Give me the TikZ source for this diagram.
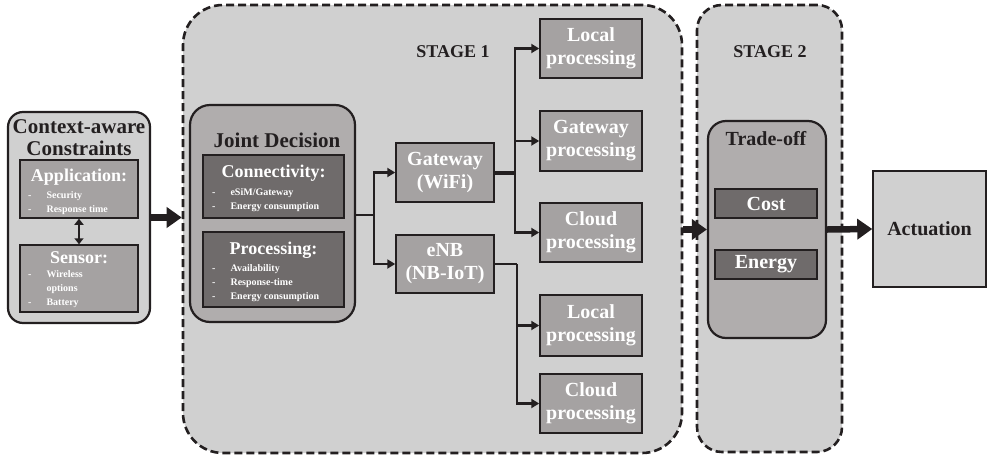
\documentclass[tikz,border=0pt]{standalone}
\usepackage{fontspec}
\setmainfont{Liberation Serif}
\usetikzlibrary{arrows.meta}
\definecolor{lightg}{HTML}{D0D0D0}
\definecolor{midg}{HTML}{B0ADAD}
\definecolor{boxg}{HTML}{A5A2A2}
\definecolor{darkg}{HTML}{6F6B6B}
\definecolor{ink}{HTML}{231F20}
\begin{document}
\begin{tikzpicture}[x=1pt,y=-1pt,
 stagebox/.style={draw=ink, fill=lightg, line width=2.6pt, dash pattern=on 8pt off 4pt, inner sep=0pt},
 groupbox/.style={draw=ink, fill=midg, line width=2.2pt, inner sep=0pt, rounded corners=18pt},
 greybox/.style={draw=ink, fill=boxg, line width=1.5pt, inner sep=0pt, text=white, font=\bfseries\fontsize{20}{23}\selectfont, align=center},
 darkbox/.style={draw=ink, fill=darkg, line width=1.5pt, inner sep=0pt, text=white, font=\bfseries\fontsize{20}{23}\selectfont},
 title/.style={text=ink, font=\bfseries\fontsize{20}{22}\selectfont, align=center, inner sep=0pt},
 whitetitle/.style={text=white, font=\bfseries\fontsize{18}{20}\selectfont, inner sep=0pt},
 items/.style={text=white, font=\bfseries\fontsize{10}{14}\selectfont, inner sep=0pt, anchor=west},
 link/.style={draw=ink, line width=2.4pt, -{Triangle[length=8pt,width=9pt]}},
 plainlink/.style={draw=ink, line width=2.4pt},
 bigarrow/.style={draw=ink, line width=6.5pt, -{Triangle[length=15pt,width=20pt]}},
]
\useasboundingbox (0,0) rectangle (987,458);

% stages
\node[stagebox, rounded corners=40pt, minimum width=499pt, minimum height=448pt] (stage1) at (432.5,229) {};
\node[stagebox, rounded corners=25pt, minimum width=145pt, minimum height=447pt] (stage2) at (769.5,228.5) {};
\node[title, font=\bfseries\fontsize{18}{20}\selectfont] (st1) at (453,52) {STAGE 1};
\node[title, font=\bfseries\fontsize{18}{20}\selectfont] (st2) at (770,52) {STAGE 2};

% context-aware constraints
\node[groupbox, fill=lightg, rounded corners=15pt, minimum width=142pt, minimum height=211pt] (ctx) at (79,217.5) {};
\node[title, font=\bfseries\fontsize{21}{22}\selectfont] (ctxt) at (79,138) {Context-aware\\Constraints};
\node[draw=ink, fill=boxg, line width=1.5pt, inner sep=0pt, minimum width=118pt, minimum height=58pt] (app) at (79,189) {};
\node[whitetitle] (appt) at (79,177) {Application:};
\node[items] (appi) at (28,203) {\begin{tabular}{@{}l@{\hspace{15pt}}l@{}}-&Security\\-&Response time\end{tabular}};
\node[draw=ink, fill=boxg, line width=1.5pt, inner sep=0pt, minimum width=118pt, minimum height=67pt] (sens) at (79,278.5) {};
\node[whitetitle] (senst) at (79,258) {Sensor:};
\node[items] (sensi) at (28,288.5) {\begin{tabular}{@{}l@{\hspace{15pt}}l@{}}-&Wireless\\&options\\-&Battery\end{tabular}};
\draw[draw=ink, line width=2.4pt, {Triangle[length=6pt,width=9pt]}-{Triangle[length=6pt,width=9pt]}] (app.south) -- (sens.north);

% joint decision
\node[groupbox, rounded corners=20pt, minimum width=165pt, minimum height=217pt] (joint) at (272.5,213.5) {};
\node[title, font=\bfseries\fontsize{21}{22}\selectfont] (jointt) at (277,140) {Joint Decision};
\node[darkbox, minimum width=141pt, minimum height=63pt] (conn) at (273.5,186.5) {};
\node[whitetitle] (connt) at (273.5,173) {Connectivity:};
\node[items] (conni) at (212,199.5) {\begin{tabular}{@{}l@{\hspace{15pt}}l@{}}-&eSiM/Gateway\\-&Energy consumption\end{tabular}};
\node[darkbox, minimum width=141pt, minimum height=75pt] (proc) at (273.5,269.5) {};
\node[whitetitle] (proct) at (273.5,250) {Processing:};
\node[items] (proci) at (212,283) {\begin{tabular}{@{}l@{\hspace{15pt}}l@{}}-&Availability\\-&Response-time\\-&Energy consumption\end{tabular}};

% networks
\node[greybox, minimum width=98pt, minimum height=59pt] (gw) at (445,172.5) {Gateway\\(WiFi)};
\node[greybox, minimum width=98pt, minimum height=58pt] (enb) at (445,264) {eNB\\(NB-IoT)};

% processing options
\node[greybox, minimum width=102pt, minimum height=59pt] (l1) at (591,48.5) {Local\\processing};
\node[greybox, minimum width=102pt, minimum height=60pt] (g1) at (591,141) {Gateway\\processing};
\node[greybox, minimum width=102pt, minimum height=59pt] (c1) at (591,232.5) {Cloud\\processing};
\node[greybox, minimum width=102pt, minimum height=61pt] (l2) at (591,325.5) {Local\\processing};
\node[greybox, minimum width=102pt, minimum height=59pt] (c2) at (591,403.5) {Cloud\\processing};

% trade-off
\node[groupbox, minimum width=118pt, minimum height=217pt] (trade) at (767,229.5) {};
\node[title] (tradet) at (766,139) {Trade-off};
\node[darkbox, minimum width=102pt, minimum height=29pt] (cost) at (766,203.5) {Cost};
\node[darkbox, minimum width=102pt, minimum height=29pt] (energy) at (766,264.5) {Energy};

% actuation
\node[draw=ink, fill=lightg, line width=1.5pt, inner sep=0pt, minimum width=113pt, minimum height=116pt, text=ink, font=\bfseries\fontsize{20}{23}\selectfont] (act) at (929.5,229) {Actuation};

% connectors
\coordinate (s1) at (374,215);
\draw[plainlink] (joint.east |- s1) -- (s1);
\draw[link] (s1) |- (gw.west);
\draw[link] (s1) |- (enb.west);
\coordinate (s2) at (515,172.5);
\draw[draw=ink, line width=4pt] (gw.east) -- (s2);
\draw[link] (s2) |- (l1.west);
\draw[link] (s2) |- (g1.west);
\draw[link] (s2) |- (c1.west);
\coordinate (s3) at (517,264);
\draw[plainlink] (enb.east) -- (s3);
\draw[link] (s3) |- (l2.west);
\draw[link] (s3) |- (c2.west);

\draw[bigarrow] (ctx.east) -- (ctx.east -| stage1.west);
\draw[bigarrow] (stage1.east |- trade.west) -- (trade.west);
\draw[bigarrow] (trade.east) -- (act.west);
\end{tikzpicture}
\end{document}
